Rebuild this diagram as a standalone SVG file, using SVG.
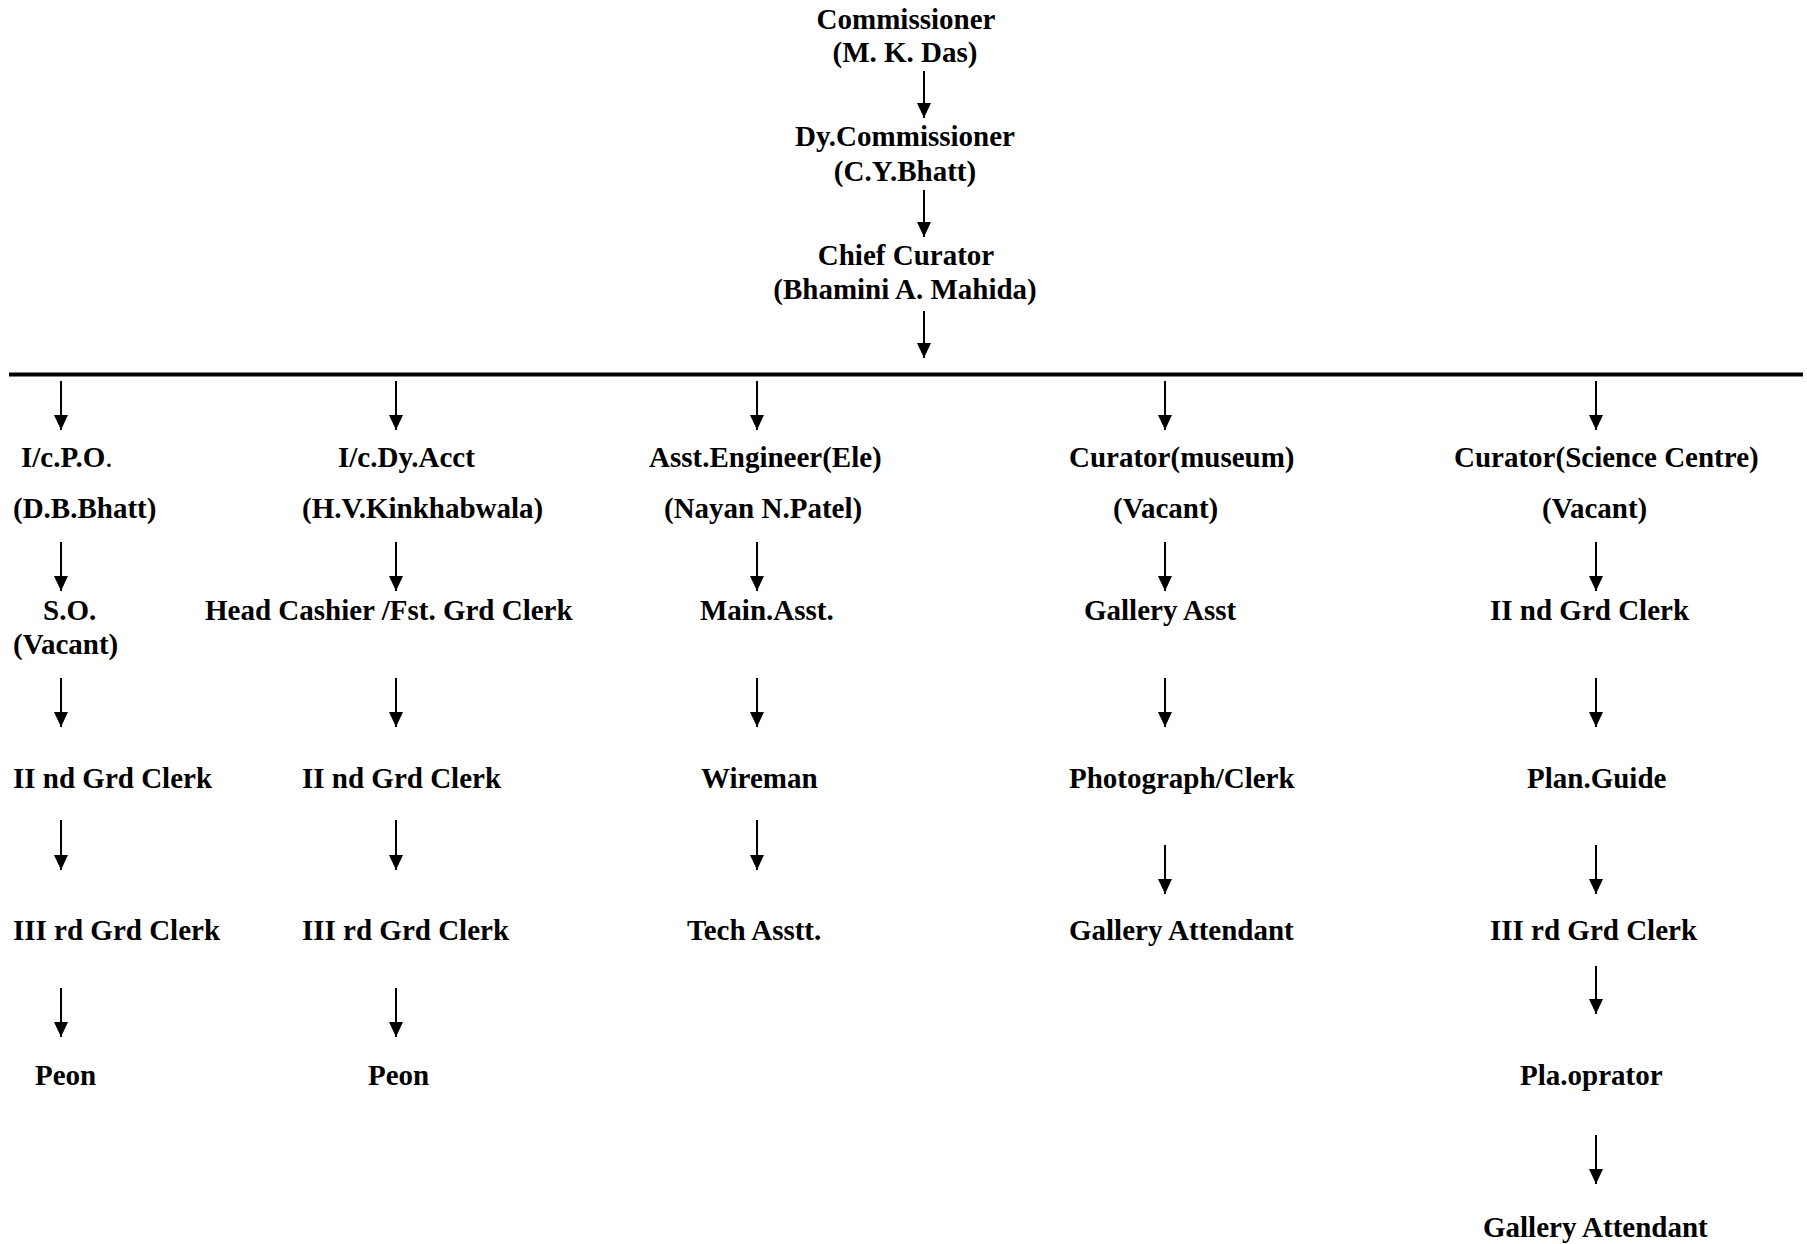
<svg xmlns="http://www.w3.org/2000/svg" width="1807" height="1244" viewBox="0 0 1807 1244">
<style>
text{font-family:"Liberation Serif","Times New Roman",serif;font-weight:bold;font-size:29px;fill:#000}
.c{text-anchor:middle}
.ln{stroke:#000;stroke-width:2;fill:none}
</style>
<defs>
<marker id="ah" markerUnits="userSpaceOnUse" markerWidth="16" markerHeight="14" refX="15" refY="7" orient="auto">
<path d="M0,0 L15,7 L0,14 z" fill="#000"/>
</marker>
</defs>
<rect width="1807" height="1244" fill="#fff"/>
<g id="connectors">
<line x1="9" y1="374.5" x2="1803" y2="374.5" stroke="#000" stroke-width="4"/>
<g class="ln" marker-end="url(#ah)">
<line x1="924" y1="71" x2="924" y2="118"/>
<line x1="924" y1="190" x2="924" y2="237"/>
<line x1="924" y1="311" x2="924" y2="358"/>
<line x1="61" y1="381" x2="61" y2="430"/>
<line x1="396" y1="381" x2="396" y2="430"/>
<line x1="757" y1="381" x2="757" y2="430"/>
<line x1="1165" y1="381" x2="1165" y2="430"/>
<line x1="1596" y1="381" x2="1596" y2="430"/>
<line x1="61" y1="542" x2="61" y2="591"/>
<line x1="396" y1="542" x2="396" y2="591"/>
<line x1="757" y1="542" x2="757" y2="591"/>
<line x1="1165" y1="542" x2="1165" y2="591"/>
<line x1="1596" y1="542" x2="1596" y2="591"/>
<line x1="61" y1="678" x2="61" y2="727"/>
<line x1="396" y1="678" x2="396" y2="727"/>
<line x1="757" y1="678" x2="757" y2="727"/>
<line x1="1165" y1="678" x2="1165" y2="727"/>
<line x1="1596" y1="678" x2="1596" y2="727"/>
<line x1="61" y1="820" x2="61" y2="870"/>
<line x1="396" y1="820" x2="396" y2="870"/>
<line x1="757" y1="820" x2="757" y2="870"/>
<line x1="1165" y1="845" x2="1165" y2="894"/>
<line x1="1596" y1="845" x2="1596" y2="894"/>
<line x1="61" y1="988" x2="61" y2="1037"/>
<line x1="396" y1="988" x2="396" y2="1037"/>
<line x1="1596" y1="966" x2="1596" y2="1014"/>
<line x1="1596" y1="1135" x2="1596" y2="1184"/>
</g>
</g>
<g id="commissioner"><text x="906" y="29" class="c">Commissioner</text><text x="905" y="62" class="c">(M. K. Das)</text></g>
<g id="dy-commissioner"><text x="905" y="146" class="c">Dy.Commissioner</text><text x="905" y="181" class="c">(C.Y.Bhatt)</text></g>
<g id="chief-curator"><text x="906" y="265" class="c">Chief Curator</text><text x="905" y="299" class="c">(Bhamini A. Mahida)</text></g>

<g id="icpo"><text x="21" y="467">I/c.P.O<tspan font-weight="normal">.</tspan></text><text x="13" y="518">(D.B.Bhatt)</text></g>
<g id="so"><text x="43" y="620">S.O.</text><text x="13" y="654">(Vacant)</text></g>
<g id="c1-clerk2"><text x="13" y="788">II nd Grd Clerk</text></g>
<g id="c1-clerk3"><text x="13" y="940">III rd Grd Clerk</text></g>
<g id="c1-peon"><text x="35" y="1085">Peon</text></g>

<g id="icdyacct"><text x="338" y="467">I/c.Dy.Acct</text><text x="302" y="518">(H.V.Kinkhabwala)</text></g>
<g id="head-cashier"><text x="205" y="620">Head Cashier /Fst. Grd Clerk</text></g>
<g id="c2-clerk2"><text x="302" y="788">II nd Grd Clerk</text></g>
<g id="c2-clerk3"><text x="302" y="940">III rd Grd Clerk</text></g>
<g id="c2-peon"><text x="368" y="1085">Peon</text></g>

<g id="asst-engineer"><text x="649" y="467">Asst.Engineer(Ele)</text><text x="664" y="518">(Nayan N.Patel)</text></g>
<g id="main-asst"><text x="700" y="620">Main.Asst.</text></g>
<g id="wireman"><text x="701" y="788">Wireman</text></g>
<g id="tech-asstt"><text x="687" y="940">Tech Asstt.</text></g>

<g id="curator-museum"><text x="1069" y="467">Curator(museum)</text><text x="1113" y="518">(Vacant)</text></g>
<g id="gallery-asst"><text x="1084" y="620">Gallery Asst</text></g>
<g id="photograph-clerk"><text x="1069" y="788">Photograph/Clerk</text></g>
<g id="c4-gallery-attendant"><text x="1069" y="940">Gallery Attendant</text></g>

<g id="curator-science"><text x="1454" y="467">Curator(Science Centre)</text><text x="1542" y="518">(Vacant)</text></g>
<g id="c5-clerk2"><text x="1490" y="620">II nd Grd Clerk</text></g>
<g id="plan-guide"><text x="1527" y="788">Plan.Guide</text></g>
<g id="c5-clerk3"><text x="1490" y="940">III rd Grd Clerk</text></g>
<g id="pla-oprator"><text x="1520" y="1085">Pla.oprator</text></g>
<g id="c5-gallery-attendant"><text x="1483" y="1237">Gallery Attendant</text></g>
</svg>
